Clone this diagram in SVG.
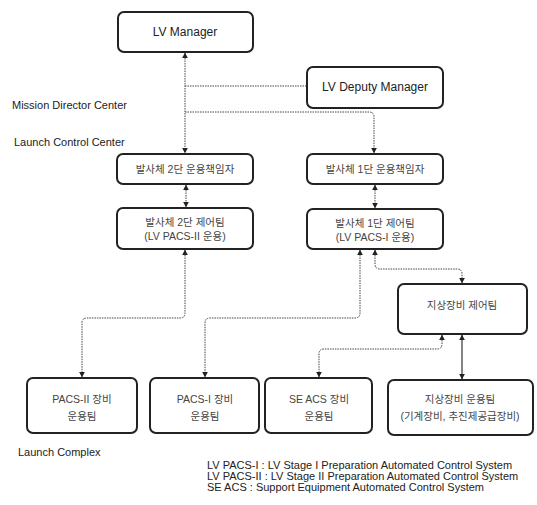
<svg xmlns="http://www.w3.org/2000/svg" width="537" height="505" viewBox="0 0 537 505">
<style>
.box{fill:#fff;stroke:#222;stroke-width:2}
.t{font-family:"Liberation Sans",Arial,sans-serif;font-size:12px;fill:#222;text-anchor:middle}
.k{font-family:"Liberation Sans","Noto Sans CJK KR",sans-serif;font-size:10.5px;fill:#444;text-anchor:middle}
.lbl{font-family:"Liberation Sans",Arial,sans-serif;font-size:11px;fill:#222}
.c{fill:none;stroke:#444;stroke-width:1;stroke-dasharray:1.5 1}
.cs{fill:none;stroke:#333;stroke-width:1.2}
</style>
<defs>
<marker id="ah" viewBox="0 0 10 10" refX="9" refY="5" markerWidth="6" markerHeight="6" markerUnits="userSpaceOnUse" orient="auto-start-reverse">
<path d="M0,0 L10,5 L0,10 z" fill="#222"/>
</marker>
</defs>
<g id="labels">
<text class="lbl" x="12" y="109">Mission Director Center</text>
<text class="lbl" x="14" y="146">Launch Control Center</text>
<text class="lbl" x="18" y="456">Launch Complex</text>
</g>
<g id="connectors">
<path class="c" d="M185,53 V153" marker-start="url(#ah)" marker-end="url(#ah)"/>
<path class="c" d="M185,86 H307"/>
<path class="c" d="M185,112 H369 Q374,112 374,117 V153" marker-end="url(#ah)"/>
<path class="c" d="M186,185 V207" marker-start="url(#ah)" marker-end="url(#ah)"/>
<path class="c" d="M375,185 V208" marker-start="url(#ah)" marker-end="url(#ah)"/>
<path class="c" d="M185,250 V313 Q185,318 180,318 H87 Q82,318 82,323 V377" marker-start="url(#ah)" marker-end="url(#ah)"/>
<path class="c" d="M360,250 V313 Q360,318 355,318 H210 Q205,318 205,323 V377" marker-start="url(#ah)" marker-end="url(#ah)"/>
<path class="c" d="M375,250 V264 Q375,269 380,269 H457 Q462,269 462,274 V283" marker-start="url(#ah)" marker-end="url(#ah)"/>
<path class="c" d="M442,335 V344 Q442,349 437,349 H324 Q319,349 319,354 V377" marker-start="url(#ah)" marker-end="url(#ah)"/>
<path class="cs" d="M462,335 V379" marker-start="url(#ah)" marker-end="url(#ah)"/>
</g>
<g id="lv-manager"><rect class="box" x="118" y="12" width="135" height="40" rx="6"/><text class="t" x="185" y="36">LV Manager</text></g>
<g id="lv-deputy-manager"><rect class="box" x="307" y="67" width="136" height="41" rx="6"/><text class="t" x="375" y="91">LV Deputy Manager</text></g>
<g id="stage2-manager"><rect class="box" x="117" y="154" width="136" height="30" rx="6"/><text class="k" x="185" y="173">발사체 2단 운용책임자</text></g>
<g id="stage1-manager"><rect class="box" x="307" y="154" width="136" height="30" rx="6"/><text class="k" x="375" y="173">발사체 1단 운용책임자</text></g>
<g id="stage2-control"><rect class="box" x="117" y="208" width="136" height="41" rx="6"/><text class="k" x="185" y="226">발사체 2단 제어팀</text><text class="k" x="185" y="240">(LV PACS-II 운용)</text></g>
<g id="stage1-control"><rect class="box" x="307" y="209" width="136" height="40" rx="6"/><text class="k" x="375" y="227">발사체 1단 제어팀</text><text class="k" x="375" y="241">(LV PACS-I 운용)</text></g>
<g id="ground-control"><rect class="box" x="398" y="284" width="129" height="50" rx="6"/><text class="k" x="462" y="309">지상장비 제어팀</text></g>
<g id="pacs2-ops"><rect class="box" x="27" y="378" width="110" height="55" rx="6"/><text class="k" x="82" y="403">PACS-II 장비</text><text class="k" x="82" y="420">운용팀</text></g>
<g id="pacs1-ops"><rect class="box" x="150" y="378" width="109" height="55" rx="6"/><text class="k" x="205" y="403">PACS-I 장비</text><text class="k" x="205" y="420">운용팀</text></g>
<g id="seacs-ops"><rect class="box" x="265" y="378" width="107" height="55" rx="6"/><text class="k" x="319" y="403">SE ACS 장비</text><text class="k" x="319" y="420">운용팀</text></g>
<g id="ground-ops"><rect class="box" x="388" y="380" width="145" height="55" rx="6"/><text class="k" x="460" y="403">지상장비 운용팀</text><text class="k" x="460" y="420">(기계장비, 추진제공급장비)</text></g>
<g id="legend">
<text class="lbl" x="207" y="469">LV PACS-I : LV Stage I Preparation Automated Control System</text>
<text class="lbl" x="207" y="480">LV PACS-II : LV Stage II Preparation Automated Control System</text>
<text class="lbl" x="207" y="491">SE ACS : Support Equipment Automated Control System</text>
</g>
</svg>
